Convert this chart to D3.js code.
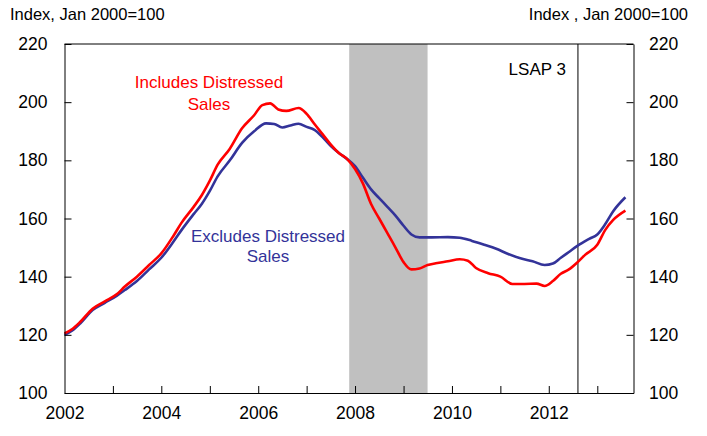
<!DOCTYPE html>
<html>
<head>
<meta charset="utf-8">
<script src="https://cdn.jsdelivr.net/npm/d3@7"></script>
<style>
  body { margin: 0; background: #fff; }
  svg { font-family: "Liberation Sans", Arial, sans-serif; }
</style>
</head>
<body>
<svg id="chart" width="707" height="436"></svg>
<script>
// house price index, Jan 2000 = 100
var inclDates = ["2002-01","2002-03","2002-05","2002-08","2002-11","2003-02","2003-04","2003-07","2003-10",
  "2004-01","2004-04","2004-06","2004-09","2004-11","2005-01","2005-03","2005-06","2005-09","2005-12",
  "2006-02","2006-04","2006-06","2006-08","2006-11","2007-01","2007-03","2007-05","2007-07","2007-09","2007-11",
  "2008-01","2008-03","2008-05","2008-07","2008-09","2008-11","2009-01","2009-03","2009-05","2009-07","2009-09","2009-12",
  "2010-03","2010-05","2010-07","2010-10","2011-01","2011-04","2011-07","2011-10","2011-12",
  "2012-02","2012-04","2012-06","2012-08","2012-10","2013-01","2013-03","2013-05","2013-08"];
var inclValues = [120.5,122,124.5,129,131.5,134,136.6,140,144,
  148,154,158.5,164,168,173,178.5,184,191,195.5,
  199,199.6,197.5,197,198,196,192.5,189,185.5,182.5,180.5,
  177,172,165,160,155,150,145,142.5,142.8,144,144.6,145.3,
  146,145.5,143,141.2,140,137.5,137.5,137.6,136.8,
  138.5,141,142.5,144.8,147.5,151,156,159.5,162.7];

var exclDates = ["2002-01","2002-03","2002-05","2002-08","2002-11","2003-02","2003-04","2003-07","2003-10",
  "2004-01","2004-04","2004-06","2004-09","2004-11","2005-01","2005-03","2005-06","2005-09","2005-12",
  "2006-03","2006-05","2006-07","2006-09","2006-11","2007-01","2007-03","2007-05","2007-07","2007-09","2007-11",
  "2008-01","2008-03","2008-05","2008-07","2008-09","2008-11","2009-01","2009-03","2009-05","2009-08","2009-12",
  "2010-03","2010-06","2010-09","2010-12","2011-03","2011-06","2011-09","2011-12",
  "2012-02","2012-04","2012-06","2012-08","2012-11","2013-01","2013-03","2013-05","2013-08"];
var exclValues = [120,121.5,124,128.5,131,133.5,135.4,138.5,142.5,
  146.5,152,156,161.5,165,169.5,174.5,180,186,190,
  192.7,192.5,191.3,192,192.6,191.5,190.5,188,185,182.5,180.5,
  178,174,170,167,164,161,157.5,154.5,153.5,153.5,153.6,
  153.4,152.3,151,149.6,147.8,146.3,145.3,144,
  144.5,146.5,148.5,150.5,153,154.5,158,162.5,167.3];

var yTicks = [100, 120, 140, 160, 180, 200, 220];
var xLabelYears = [2002, 2004, 2006, 2008, 2010, 2012];
var recession = ["2007-11-18", "2009-07-01"];
var lsapDate = "2012-08-08";

var parse = d3.timeParse("%Y-%m");
var parseDay = d3.timeParse("%Y-%m-%d");

var incl = inclDates.map(function (d, i) { return [parse(d), inclValues[i]]; });
var excl = exclDates.map(function (d, i) { return [parse(d), exclValues[i]]; });

var plotLeft = 64.5, plotRight = 633.5, plotTop = 44, plotBottom = 393;

var svg = d3.select("#chart");

var x = d3.scaleTime()
  .domain([new Date(2002, 0, 1), new Date(2013, 9, 1)])
  .range([plotLeft, plotRight]);
var y = d3.scaleLinear().domain([100, 220]).range([plotBottom, plotTop]);

// recession shading
svg.append("rect")
  .attr("x", x(parseDay(recession[0])))
  .attr("y", plotTop)
  .attr("width", x(parseDay(recession[1])) - x(parseDay(recession[0])))
  .attr("height", plotBottom - plotTop)
  .attr("fill", "#c0c0c0");

// LSAP 3 marker
svg.append("line")
  .attr("x1", x(parseDay(lsapDate))).attr("x2", x(parseDay(lsapDate)))
  .attr("y1", plotTop).attr("y2", plotBottom)
  .attr("stroke", "#000").attr("stroke-width", 1);
svg.append("text")
  .attr("x", x(parseDay(lsapDate)) - 12).attr("y", 75)
  .attr("text-anchor", "end")
  .attr("font-size", 17)
  .text("LSAP 3");

var line = d3.line()
  .x(function (d) { return x(d[0]); })
  .y(function (d) { return y(d[1]); })
  .curve(d3.curveMonotoneX);

svg.append("path").datum(excl)
  .attr("fill", "none").attr("stroke", "#333399").attr("stroke-width", 2.6)
  .attr("d", line);
svg.append("path").datum(incl)
  .attr("fill", "none").attr("stroke", "#ff0000").attr("stroke-width", 2.6)
  .attr("d", line);

// axes
var years = d3.range(2003, 2014).map(function (yr) { return new Date(yr, 0, 1); });
svg.append("g")
  .attr("transform", "translate(0," + plotBottom + ")")
  .call(d3.axisBottom(x).tickValues(years).tickSize(-7).tickSizeOuter(0).tickFormat(""));
svg.append("g")
  .attr("transform", "translate(0," + plotBottom + ")")
  .call(d3.axisBottom(x)
    .tickValues(xLabelYears.map(function (yr) { return new Date(yr, 0, 1); }))
    .tickSize(0).tickPadding(14)
    .tickFormat(d3.timeFormat("%Y")))
  .call(function (g) { g.select(".domain").remove(); });

svg.append("g")
  .attr("transform", "translate(" + plotLeft + ",0)")
  .call(d3.axisLeft(y).tickValues(yTicks).tickSize(-7).tickSizeOuter(0).tickPadding(17));
svg.append("g")
  .attr("transform", "translate(" + plotRight + ",0)")
  .call(d3.axisRight(y).tickValues(yTicks).tickSize(-7).tickSizeOuter(0).tickPadding(15.5));

svg.append("line")
  .attr("x1", plotLeft).attr("x2", plotRight).attr("y1", plotTop).attr("y2", plotTop)
  .attr("stroke", "#000").attr("stroke-width", 1);

svg.selectAll(".tick text")
  .attr("font-family", "Liberation Sans, Arial, sans-serif")
  .attr("font-size", 17.5)
  .attr("fill", "#000");
svg.selectAll(".domain, .tick line").attr("stroke", "#000");

// titles
svg.append("text").attr("x", 10).attr("y", 20).attr("font-size", 16.5).text("Index, Jan 2000=100");
svg.append("text").attr("x", 688).attr("y", 20).attr("font-size", 16.5)
  .attr("text-anchor", "end").text("Index , Jan 2000=100");

// series labels
svg.append("text").attr("x", 209).attr("y", 88).attr("font-size", 17)
  .attr("text-anchor", "middle").attr("fill", "#ff0000").text("Includes Distressed");
svg.append("text").attr("x", 209).attr("y", 110).attr("font-size", 17)
  .attr("text-anchor", "middle").attr("fill", "#ff0000").text("Sales");
svg.append("text").attr("x", 268).attr("y", 242).attr("font-size", 17)
  .attr("text-anchor", "middle").attr("fill", "#333399").text("Excludes Distressed");
svg.append("text").attr("x", 268).attr("y", 262).attr("font-size", 17)
  .attr("text-anchor", "middle").attr("fill", "#333399").text("Sales");
</script>
</body>
</html>
